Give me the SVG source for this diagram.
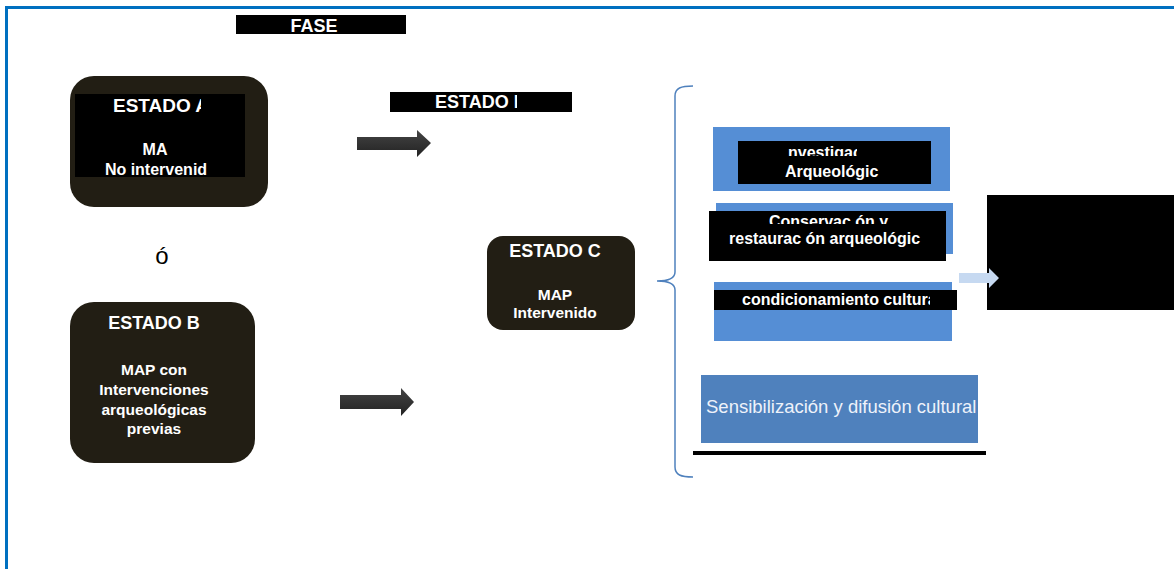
<svg xmlns="http://www.w3.org/2000/svg" width="1174" height="569" viewBox="0 0 1174 569">
<style>
.dark{fill:#221e14}
.blk{fill:#000}
.blue{fill:#558ed5}
.wt{fill:#ffffff;font-family:"Liberation Sans",Arial,sans-serif;font-weight:bold}
.mid{text-anchor:middle}
.arrow{fill:url(#ag)}
</style>
<defs>
<linearGradient id="ag" x1="0" y1="0" x2="0" y2="1">
<stop offset="0" stop-color="#444"/>
<stop offset="1" stop-color="#222"/>
</linearGradient>
<clipPath id="cA"><rect x="0" y="0" width="201" height="569"/></clipPath>
<clipPath id="cB"><rect x="0" y="0" width="517" height="569"/></clipPath>
<clipPath id="c1"><rect x="0" y="0" width="857" height="156"/></clipPath>
<clipPath id="c2"><rect x="0" y="0" width="1174" height="224"/></clipPath>
<clipPath id="c3"><rect x="0" y="0" width="930" height="569"/></clipPath>
</defs>
<rect x="0" y="0" width="1174" height="569" fill="#fff"/>
<g id="frame">
<rect x="5" y="6" width="1169" height="3" fill="#0070c0"/>
<rect x="5" y="6" width="3" height="563" fill="#0070c0"/>
</g>
<g id="fase">
<rect x="236" y="15" width="170" height="19" class="blk"/>
<text x="314" y="32" class="wt mid" font-size="18">FASE</text>
</g>
<g id="estadoA">
<rect x="70" y="76" width="198" height="131" rx="24" class="dark"/>
<rect x="75" y="94" width="170" height="83" class="blk"/>
<text x="113" y="112" class="wt" font-size="19" clip-path="url(#cA)">ESTADO A</text>
<text x="155" y="155" class="wt mid" font-size="16">MA</text>
<text x="156" y="175" class="wt mid" font-size="16">No intervenid</text>
</g>
<g id="estadoB-header">
<rect x="390" y="92" width="182" height="20" class="blk"/>
<text x="435" y="108" class="wt" font-size="18" clip-path="url(#cB)">ESTADO B</text>
</g>
<g id="or">
<text x="162" y="264" font-family="Liberation Sans,Arial,sans-serif" font-size="24" text-anchor="middle" fill="#000">ó</text>
</g>
<g id="estadoB">
<rect x="70" y="302" width="185" height="161" rx="24" class="dark"/>
<text x="154" y="329" class="wt mid" font-size="18">ESTADO B</text>
<text x="154" y="375" class="wt mid" font-size="15.5">MAP con</text>
<text x="154" y="395" class="wt mid" font-size="15.5">Intervenciones</text>
<text x="154" y="415" class="wt mid" font-size="15.5">arqueológicas</text>
<text x="154" y="434" class="wt mid" font-size="15.5">previas</text>
</g>
<g id="estadoC">
<rect x="487" y="236" width="148" height="94" rx="16" class="dark"/>
<text x="555" y="257" class="wt mid" font-size="18">ESTADO C</text>
<text x="555" y="300" class="wt mid" font-size="15.5">MAP</text>
<text x="555" y="318" class="wt mid" font-size="15.5">Intervenido</text>
</g>
<g id="brace">
<path d="M693,86 C681,86 675,88 675,96 L675,272 C675,278 670,281 657,281 C670,281 675,284 675,290 L675,467 C675,475 681,477 693,477" fill="none" stroke="#4f81bd" stroke-width="1.5"/>
</g>
<g id="investigacion">
<rect x="713" y="127" width="237" height="64" class="blue"/>
<rect x="738" y="141" width="193" height="43" class="blk"/>
<text x="788" y="158" class="wt" font-size="16" clip-path="url(#c1)">nvestigac</text>
<text x="785" y="177" class="wt" font-size="16">Arqueológic</text>
</g>
<g id="conservacion">
<rect x="716" y="203" width="237" height="51" class="blue"/>
<rect x="709" y="211" width="237" height="50" class="blk"/>
<text x="769" y="227" class="wt" font-size="16" clip-path="url(#c2)">Conservac ón y</text>
<text x="729" y="244" class="wt" font-size="16">restaurac ón arqueológic</text>
</g>
<g id="acondicionamiento">
<rect x="714" y="282" width="238" height="59" class="blue"/>
<rect x="714" y="290" width="243" height="20" class="blk"/>
<text x="742" y="305" class="wt" font-size="16" clip-path="url(#c3)">condicionamiento cultura</text>
</g>
<g id="sensibilizacion">
<rect x="701" y="375" width="277" height="68" fill="#4f81bd"/>
<text x="706" y="413" font-family="Liberation Sans,Arial,sans-serif" font-size="18.5" fill="#eef2fa">Sensibilización y difusión cultural</text>
</g>
<g id="baseline">
<rect x="693" y="451" width="293" height="4" fill="#000"/>
</g>
<g id="result">
<rect x="987" y="195" width="187" height="115" class="blk"/>
</g>
<g id="connectors">
<path class="arrow" d="M357,137 L417,137 L417,130 L431,143 L417,157 L417,150 L357,150 Z"/>
<path class="arrow" d="M340,395 L401,395 L401,388 L414,402 L401,416 L401,409 L340,409 Z"/>
<path d="M959,273 L989,273 L989,268 L999,278 L989,288 L989,283 L959,283 Z" fill="#c6d9f1"/>
</g>
</svg>
